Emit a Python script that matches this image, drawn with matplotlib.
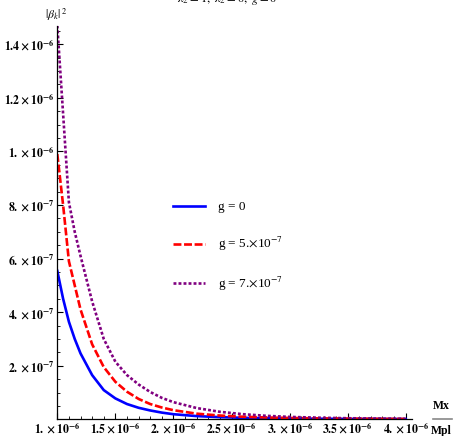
import numpy as np
import matplotlib
matplotlib.use("Agg")
import matplotlib.pyplot as plt
from matplotlib.ticker import FixedLocator, MultipleLocator
from matplotlib.lines import Line2D

plt.rcParams['font.family'] = ['Liberation Serif', 'DejaVu Serif']
plt.rcParams['mathtext.fontset'] = 'stix'

# Mx/Mpl in units of 1e-6
mx = [1.0, 1.05, 1.1, 1.15, 1.2, 1.3, 1.4, 1.5, 1.6, 1.7, 1.8, 1.9, 2.0,
      2.2, 2.4, 2.6, 2.8, 3.0, 3.25, 3.5, 3.75, 4.0]

# |beta_k|^2 in units of 1e-6
beta_g0 = [0.554, 0.45, 0.364, 0.30, 0.246, 0.165, 0.109, 0.078, 0.057, 0.043,
           0.033, 0.025, 0.019, 0.012, 0.008, 0.0055, 0.004, 0.003, 0.002,
           0.0015, 0.001, 0.0008]
beta_g5 = [0.99, 0.80, 0.59, 0.50, 0.41, 0.28, 0.195, 0.140, 0.103, 0.076,
           0.057, 0.044, 0.034, 0.021, 0.014, 0.0095, 0.0068, 0.005, 0.0035,
           0.0025, 0.0018, 0.0013]
beta_g7 = [1.47, 1.14, 0.81, 0.70, 0.61, 0.44, 0.30, 0.215, 0.165, 0.13,
           0.102, 0.08, 0.064, 0.042, 0.028, 0.019, 0.013, 0.009, 0.006,
           0.004, 0.003, 0.002]

labels = ["g = 0", r"g = 5.$\times$10$^{-7}$", r"g = 7.$\times$10$^{-7}$"]

xticks = [1.0, 1.5, 2.0, 2.5, 3.0, 3.5, 4.0]
xticklabels = [r"$\mathbf{1.\times10^{-6}}$", r"$\mathbf{1.5\times10^{-6}}$",
               r"$\mathbf{2.\times10^{-6}}$", r"$\mathbf{2.5\times10^{-6}}$",
               r"$\mathbf{3.\times10^{-6}}$", r"$\mathbf{3.5\times10^{-6}}$",
               r"$\mathbf{4.\times10^{-6}}$"]
yticks = [0.2, 0.4, 0.6, 0.8, 1.0, 1.2, 1.4]
yticklabels = [r"$\mathbf{2.\times10^{-7}}$", r"$\mathbf{4.\times10^{-7}}$",
               r"$\mathbf{6.\times10^{-7}}$", r"$\mathbf{8.\times10^{-7}}$",
               r"$\mathbf{1.\times10^{-6}}$", r"$\mathbf{1.2\times10^{-6}}$",
               r"$\mathbf{1.4\times10^{-6}}$"]

fig = plt.figure(figsize=(4.54, 4.36), dpi=100)
ax = fig.add_axes([0.1262, 0.0383, 0.781, 0.902])

ax.plot(mx, beta_g0, color='#0000ff', lw=1.9, label=labels[0])
ax.plot(mx, beta_g5, color='#ff0000', lw=1.9, dashes=(3.0, 1.0), label=labels[1])
ax.plot(mx, beta_g7, color='#800080', lw=1.9, dashes=(1.1, 0.8), label=labels[2])

ax.set_xlim(1.0, 4.053)
ax.set_ylim(0, 1.468)
for s in ['top', 'right']:
    ax.spines[s].set_visible(False)
ax.spines['left'].set_linewidth(0.9)
ax.spines['bottom'].set_linewidth(0.9)

ax.xaxis.set_major_locator(FixedLocator(xticks))
ax.set_xticklabels(xticklabels, fontsize=8.5)
ax.xaxis.set_minor_locator(MultipleLocator(0.1))
ax.yaxis.set_major_locator(FixedLocator(yticks))
ax.set_yticklabels(yticklabels, fontsize=8.5)
ax.yaxis.set_minor_locator(MultipleLocator(0.05))
ax.tick_params(which='major', direction='in', length=4, width=0.8)
ax.tick_params(which='minor', direction='in', length=2.5, width=0.6)
ax.tick_params(axis='x', which='both', pad=1.5)
ax.tick_params(axis='y', which='both', pad=2)

leg = fig.legend(loc='center left', bbox_to_anchor=((166 - 5) / 454, 1 - 247 / 436),
                 frameon=False, handlelength=2.4, handletextpad=1.0,
                 labelspacing=1.65, fontsize=9.5)

# axis labels in Mathematica style
fig.text(45 / 454, 1 - 15 / 436, r"$|\beta_k|^{\ 2}$", ha='left', va='center',
         fontsize=8.5, fontweight='bold')
fig.text(441 / 454, 1 - 406 / 436, "Mx", ha='center', va='center',
         fontsize=8.5, fontweight='bold')
fig.add_artist(Line2D([433 / 454, 452 / 454], [1 - 419 / 436, 1 - 419 / 436],
                      transform=fig.transFigure, color='#888888', lw=1.2))
fig.text(441 / 454, 1 - 431 / 436, "Mpl", ha='center', va='center',
         fontsize=8.5, fontweight='bold')

# title, cut off at the top edge in the original
fig.text(0.5, 1 - 2 / 436, r"$\lambda_2 = 1,\ \lambda_2 = 0,\ g = 0$", ha='center',
         va='baseline', fontsize=9)

fig.savefig("out.png", dpi=100)
